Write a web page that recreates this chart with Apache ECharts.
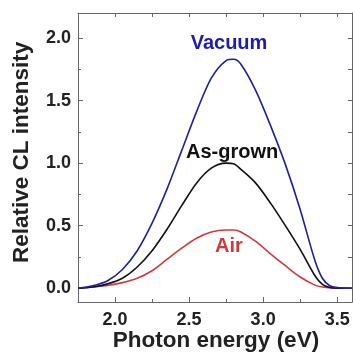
<!DOCTYPE html>
<html><head><meta charset="utf-8">
<script src="https://cdn.jsdelivr.net/npm/echarts@6/dist/echarts.min.js"></script>
<style>html,body{margin:0;padding:0;background:#fff}#c{width:353px;height:355px}</style>
</head><body><div id="c"></div>
<script>
const energy = [1.75,1.85,1.95,2.05,2.15,2.25,2.35,2.45,2.55,2.65,2.75,2.80,2.85,2.95,3.05,3.15,3.25,3.35,3.40,3.45,3.50,3.60];
const vacuum = [0.0,0.02,0.06,0.15,0.30,0.52,0.79,1.10,1.41,1.68,1.82,1.83,1.79,1.58,1.30,0.99,0.63,0.22,0.08,0.02,0.005,0.0];
const asGrown = [0.0,0.01,0.035,0.08,0.17,0.30,0.47,0.66,0.84,0.96,1.0,0.995,0.95,0.84,0.68,0.50,0.31,0.10,0.03,0.006,0.0,0.0];
const air = [0.0,0.01,0.022,0.045,0.08,0.14,0.23,0.32,0.40,0.45,0.465,0.465,0.45,0.375,0.275,0.18,0.09,0.025,0.01,0.004,0.0,0.0];
const xMajor = [2.0,2.5,3.0,3.5];
const xMinor = [2.25,2.75,3.25];
const yMajor = [0.0,0.5,1.0,1.5,2.0];
const yMinor = [0.25,0.75,1.25,1.75];
const xTitle = 'Photon energy (eV)';
const yTitle = 'Relative CL intensity';

const pair = v => energy.map((e,i)=>[e,v[i]]);
const frame = '#666';
const font = '"Liberation Sans", Arial, sans-serif';
const XMIN=1.75, XMAX=3.6, YMIN=-0.11, YMAX=2.2;

function xAx(pos, vals, len, labels, showLine){
  return {type:'value', min:XMIN, max:XMAX, position:pos,
    axisLine:{show:showLine, onZero:false, lineStyle:{color:frame,width:1}},
    axisTick:{show:true, inside:true, length:len, customValues:vals, lineStyle:{color:frame}},
    axisLabel:{show:labels, customValues:vals, color:'#222', fontSize:18, fontWeight:'bold', fontFamily:font, margin:9, formatter:v=>v.toFixed(1)},
    splitLine:{show:false}};
}
function yAx(pos, vals, len, labels, showLine){
  return {type:'value', min:YMIN, max:YMAX, position:pos,
    axisLine:{show:showLine, onZero:false, lineStyle:{color:frame,width:1}},
    axisTick:{show:true, inside:true, length:len, customValues:vals, lineStyle:{color:frame}},
    axisLabel:{show:labels, customValues:vals, color:'#222', fontSize:18, fontWeight:'bold', fontFamily:font, margin:7, formatter:v=>v.toFixed(1)},
    splitLine:{show:false}};
}

const chart = echarts.init(document.getElementById('c'), null, {renderer:'canvas'});
chart.setOption({
  animation:false,
  grid:{left:78, top:13, right:1, bottom:53, containLabel:false},
  xAxis:[xAx('bottom',xMajor,5,true,true), xAx('top',xMajor.concat(xMinor),4,false,true), xAx('bottom',xMinor,3,false,false)],
  yAxis:[yAx('left',yMajor,5,true,true), yAx('right',yMajor.concat(yMinor),4,false,true), yAx('left',yMinor,3,false,false)],
  series:[
    {type:'line', data:pair(air), showSymbol:false, smooth:0.3, lineStyle:{color:'#d23a3a', width:1.6}},
    {type:'line', data:pair(asGrown), showSymbol:false, smooth:0.3, lineStyle:{color:'#111', width:1.6}},
    {type:'line', data:pair(vacuum), showSymbol:false, smooth:0.3, lineStyle:{color:'#1f1fa0', width:1.6}}
  ],
  graphic:[
    {type:'text', x:216, y:341, style:{text:xTitle, fill:'#222', font:'bold 22.5px '+font, textAlign:'center', textVerticalAlign:'middle'}},
    {type:'text', rotation:Math.PI/2, x:10, y:263, style:{text:yTitle, fill:'#222', font:'bold 22.5px '+font, textAlign:'left', textVerticalAlign:'top'}},
    {type:'text', x:229, y:43, style:{text:'Vacuum', fill:'#1c1cb0', font:'bold 20px '+font, textAlign:'center', textVerticalAlign:'middle'}},
    {type:'text', x:186, y:152, style:{text:'As-grown', fill:'#111', font:'bold 20px '+font, textAlign:'left', textVerticalAlign:'middle'}},
    {type:'text', x:229, y:246, style:{text:'Air', fill:'#d23a3a', font:'bold 20px '+font, textAlign:'center', textVerticalAlign:'middle'}}
  ]
});
</script></body></html>
